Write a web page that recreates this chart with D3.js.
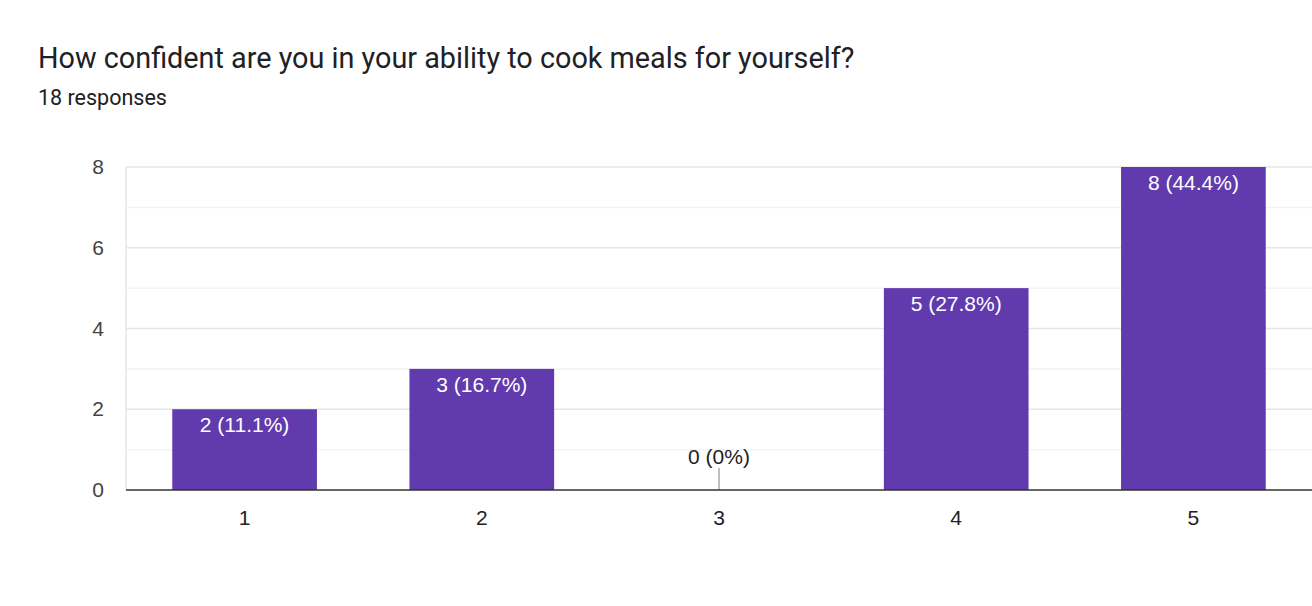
<!DOCTYPE html>
<html>
<head>
<meta charset="utf-8">
<script src="https://cdn.jsdelivr.net/npm/d3@7"></script>
<style>
  body { margin: 0; background: #fff; font-family: Roboto, Arial, sans-serif; }
</style>
</head>
<body>
<svg id="chart" width="1312" height="606"></svg>
<script>
"use strict";

const categories = ["1", "2", "3", "4", "5"];
const counts     = [2, 3, 0, 5, 8];
const totalResponses = 18;
const yTicks     = [0, 2, 4, 6, 8];

const chartFont = "'Liberation Sans', Arial, sans-serif";
const svg = d3.select("#chart");

/* ── Title ── */
svg.append("text")
  .attr("x", 38).attr("y", 68)
  .attr("font-size", "28.8px").attr("fill", "#202124")
  .text("How confident are you in your ability to cook meals for yourself?");
svg.append("text")
  .attr("x", 38).attr("y", 105)
  .attr("font-size", "21.5px").attr("fill", "#202124")
  .text(totalResponses + " responses");

/* ── Plot box ── */
const plot = { left: 126, right: 1312, top: 167, bottom: 490 };

/* ── Scales ── */
const x = d3.scaleBand().domain(categories).range([plot.left, plot.right])
  .paddingInner(0.39).paddingOuter(0.195);
const y = d3.scaleLinear().domain([0, 8]).range([plot.bottom, plot.top]);

/* ── Grid ── */
svg.append("g")
  .selectAll("line")
  .data(d3.range(1, 9))
  .join("line")
  .attr("x1", plot.left).attr("x2", plot.right)
  .attr("y1", d => y(d)).attr("y2", d => y(d))
  .attr("stroke", d => d % 2 === 0 ? "#e6e6e6" : "#f3f3f3")
  .attr("stroke-width", 1.5);

svg.append("line")
  .attr("x1", plot.left).attr("x2", plot.left)
  .attr("y1", plot.top).attr("y2", plot.bottom)
  .attr("stroke", "#e6e6e6").attr("stroke-width", 1.5);

/* ── Y axis ── */
svg.append("g")
  .attr("transform", `translate(${plot.left},0)`)
  .call(d3.axisLeft(y).tickValues(yTicks).tickSize(0).tickPadding(22))
  .call(g => {
    g.select(".domain").remove();
    g.selectAll(".tick text")
      .attr("fill", "#444").attr("font-size", "21px")
      .attr("font-family", chartFont);
  });

/* ── Bars ── */
svg.selectAll(".bar")
  .data(counts)
  .join("rect")
  .attr("class", "bar")
  .attr("x", (d, i) => x(categories[i]))
  .attr("y", d => y(d))
  .attr("width", x.bandwidth())
  .attr("height", d => y(0) - y(d))
  .attr("fill", "#613bae");

/* ── Zero-value marker ── */
svg.selectAll(".zero-tick")
  .data(counts.map((d, i) => ({ d, i })).filter(o => o.d === 0))
  .join("line")
  .attr("x1", o => x(categories[o.i]) + x.bandwidth() / 2)
  .attr("x2", o => x(categories[o.i]) + x.bandwidth() / 2)
  .attr("y1", y(0) - 22).attr("y2", y(0))
  .attr("stroke", "#aaa").attr("stroke-width", 1.5);

/* ── Baseline ── */
svg.append("line")
  .attr("x1", plot.left).attr("x2", plot.right)
  .attr("y1", y(0)).attr("y2", y(0))
  .attr("stroke", "#333").attr("stroke-width", 1.5);

/* ── X axis ── */
svg.append("g")
  .attr("transform", `translate(0,${plot.bottom})`)
  .call(d3.axisBottom(x).tickSize(0).tickPadding(20))
  .call(g => {
    g.select(".domain").remove();
    g.selectAll(".tick text")
      .attr("fill", "#222").attr("font-size", "21px")
      .attr("font-family", chartFont);
  });

/* ── Value labels ── */
const fmt = v => {
  const p = v / totalResponses * 100;
  return `${v} (${p === 0 ? "0" : p.toFixed(1)}%)`;
};
svg.selectAll(".bar-label")
  .data(counts)
  .join("text")
  .attr("class", "bar-label")
  .attr("x", (d, i) => x(categories[i]) + x.bandwidth() / 2)
  .attr("y", d => d === 0 ? y(0) - 26 : y(d) + 23)
  .attr("text-anchor", "middle")
  .attr("font-size", "21px")
  .attr("font-family", chartFont)
  .attr("fill", d => d === 0 ? "#222" : "#fff")
  .text(fmt);
</script>
</body>
</html>
